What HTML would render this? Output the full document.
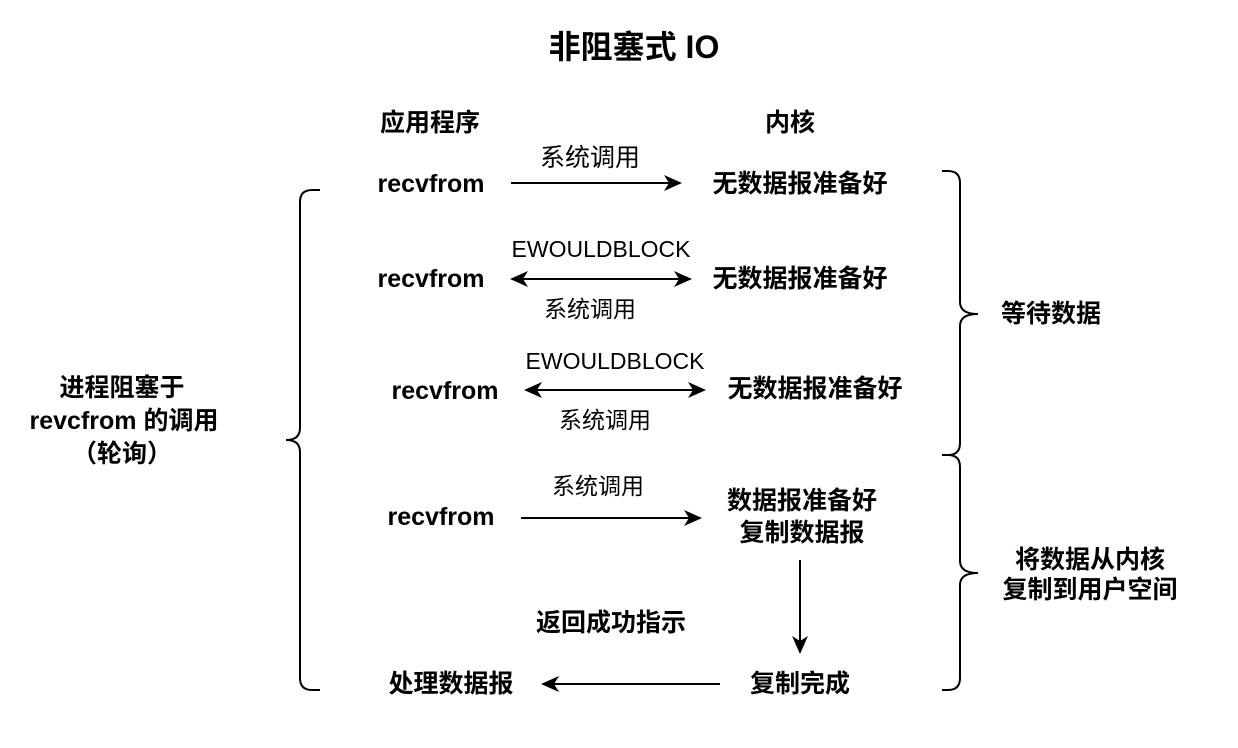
<!DOCTYPE html>
<html><head><meta charset="utf-8"><style>
html,body{margin:0;padding:0;background:#fff;}
svg{display:block;}
text{font-family:"Liberation Sans","Noto Sans CJK SC",sans-serif;fill:#000;dominant-baseline:central;text-anchor:middle;}
.b{font-weight:bold;font-size:25px;}
.n{font-size:23px;}
</style></head><body>
<svg width="1238" height="748" viewBox="0 0 1238 748" xmlns="http://www.w3.org/2000/svg">
<defs>
<marker id="a" markerWidth="18" markerHeight="16" refX="16" refY="8" orient="auto-start-reverse" markerUnits="userSpaceOnUse">
<path d="M0,0 L18,8 L0,16 L5,8 Z" fill="#000"/></marker>
</defs>
<text x="634" y="47" style="font-weight:bold;font-size:32px">非阻塞式 IO</text>
<text class="b" x="430" y="123">应用程序</text>
<text class="b" x="790" y="123">内核</text>

<text class="b" x="431" y="184">recvfrom</text>
<text class="n" x="590" y="158" style="font-size:25px">系统调用</text>
<line x1="511" y1="183" x2="680" y2="183" stroke="#000" stroke-width="2" marker-end="url(#a)"/>
<text class="b" x="800" y="184">无数据报准备好</text>

<text class="b" x="431" y="279">recvfrom</text>
<text class="n" x="601" y="249">EWOULDBLOCK</text>
<text class="n" x="590" y="309">系统调用</text>
<line x1="512" y1="279" x2="690" y2="279" stroke="#000" stroke-width="2" marker-start="url(#a)" marker-end="url(#a)"/>
<text class="b" x="800" y="279">无数据报准备好</text>

<text class="b" x="445" y="391">recvfrom</text>
<text class="n" x="615" y="361">EWOULDBLOCK</text>
<text class="n" x="605" y="420">系统调用</text>
<line x1="526" y1="390" x2="704" y2="390" stroke="#000" stroke-width="2" marker-start="url(#a)" marker-end="url(#a)"/>
<text class="b" x="815" y="389">无数据报准备好</text>

<text class="b" x="441" y="517">recvfrom</text>
<text class="n" x="598" y="486">系统调用</text>
<line x1="521" y1="518" x2="700" y2="518" stroke="#000" stroke-width="2" marker-end="url(#a)"/>
<text class="b" x="802" y="501">数据报准备好</text>
<text class="b" x="802" y="533">复制数据报</text>

<line x1="800" y1="560" x2="800" y2="652" stroke="#000" stroke-width="2" marker-end="url(#a)"/>
<text class="b" x="611" y="623">返回成功指示</text>

<text class="b" x="451" y="684">处理数据报</text>
<line x1="720" y1="684" x2="543" y2="684" stroke="#000" stroke-width="2" marker-end="url(#a)"/>
<text class="b" x="800" y="684">复制完成</text>

<path d="M320,190 L312,190 Q300,190 300,202 L300,428 Q300,440 286,440 Q300,440 300,452 L300,678 Q300,690 312,690 L320,690" fill="none" stroke="#000" stroke-width="2"/>
<text class="b" x="122" y="388">进程阻塞于</text>
<text class="b" x="124" y="421">revcfrom 的调用</text>
<text class="b" x="122" y="454">（轮询）</text>

<path d="M942,171 L948,171 Q960,171 960,183 L960,302 Q960,314 978,314 Q960,314 960,326 L960,443 Q960,455 948,455 L942,455" fill="none" stroke="#000" stroke-width="2"/>
<path d="M942,455 L948,455 Q960,455 960,467 L960,561 Q960,573 978,573 Q960,573 960,585 L960,678 Q960,690 948,690 L942,690" fill="none" stroke="#000" stroke-width="2"/>
<text class="b" x="1051" y="314">等待数据</text>
<text class="b" x="1090" y="560">将数据从内核</text>
<text class="b" x="1090" y="590">复制到用户空间</text>
</svg>
</body></html>
